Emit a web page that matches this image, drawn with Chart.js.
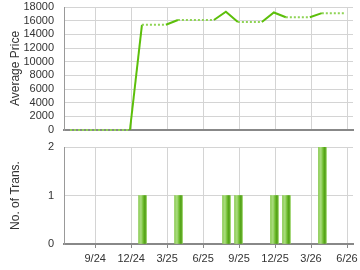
<!DOCTYPE html>
<html>
<head>
<meta charset="utf-8">
<script src="https://cdn.jsdelivr.net/npm/chart.js@4/dist/chart.umd.min.js"></script>
<style>
  body { margin: 0; background: #fff; width: 360px; height: 270px; overflow: hidden; }
  #wrapTop { position: absolute; left: 0; top: 0; width: 360px; height: 138px; }
  #wrapBot { position: absolute; left: 0; top: 135px; width: 360px; height: 135px; }
</style>
</head>
<body>
<div id="wrapTop"><canvas id="priceChart"></canvas></div>
<div id="wrapBot"><canvas id="transChart"></canvas></div>
<script>
// months counted from Jan 2024 = 0
const tickMonths = [8, 11, 14, 17, 20, 23, 26, 29];
const tickLabels = ['9/24', '12/24', '3/25', '6/25', '9/25', '12/25', '3/26', '6/26'];

const priceMonths = [5.9, 10.9, 11.9, 13.9, 14.9, 17.9, 18.9, 19.9, 21.9, 22.9, 23.9, 25.9, 26.9, 28.9];
const priceValues = [0, 0, 15400, 15400, 16100, 16100, 17300, 15800, 15800, 17200, 16500, 16500, 17100, 17100];

const transMonths = [11.95, 14.95, 18.95, 19.95, 22.95, 23.95, 26.95];
const transCounts = [1, 1, 1, 1, 1, 1, 2];

const FONT = "'Liberation Sans', Arial, sans-serif";
Chart.defaults.font.family = FONT;
Chart.defaults.color = '#333';
Chart.defaults.animation = false;

const xMin = 5.4, xMax = 29.5;

function setTicks(axis) {
    axis.ticks = tickMonths.map(v => ({ value: v }));
}
// fixed y axis width, no extra label padding so layout padding decides the plot box
function fixY(axis) {
    axis.width = 64;
    axis.paddingTop = 0;
    axis.paddingBottom = 0;
}
function fixX(h) {
    return axis => {
        axis.height = h;
        axis.paddingLeft = 0;
        axis.paddingRight = 0;
    };
}

// line chart (average price)
const priceData = priceMonths.map((m, i) => ({ x: m, y: priceValues[i] }));

const priceChart = new Chart(document.getElementById('priceChart'), {
    type: 'line',
    data: {
        datasets: [{
            data: priceData,
            borderColor: '#5cbf0a',
            borderWidth: 2,
            pointRadius: 0,
            tension: 0,
            fill: false,
            clip: 4,
            segment: {
                borderDash: ctx => (ctx.p1.parsed.x - ctx.p0.parsed.x > 1.05 ? [2, 2] : undefined),
                borderColor: ctx => (ctx.p1.parsed.x - ctx.p0.parsed.x > 1.05 ? '#8fd455' : undefined)
            }
        }]
    },
    options: {
        responsive: true,
        maintainAspectRatio: false,
        layout: { padding: { left: 0, right: 7, top: 7, bottom: 8 } },
        plugins: { legend: { display: false }, tooltip: { enabled: false } },
        scales: {
            x: {
                type: 'linear',
                min: xMin,
                max: xMax,
                afterBuildTicks: setTicks,
                afterFit: fixX(0),
                ticks: { display: false },
                grid: { color: '#d4d4d4', drawTicks: false },
                border: { color: '#888', width: 2 }
            },
            y: {
                min: 0,
                max: 18000,
                afterFit: fixY,
                ticks: {
                    stepSize: 2000, padding: 10, font: { size: 11 },
                    autoSkip: false,
                    callback: v => String(v)
                },
                grid: { color: '#d4d4d4', drawTicks: false },
                border: { color: '#999', width: 1 },
                title: { display: true, text: 'Average Price', font: { size: 12 }, padding: { top: 8, bottom: 0 } }
            }
        }
    }
});

// bar chart (number of transactions)
const transData = transMonths.map((m, i) => ({ x: m, y: transCounts[i] }));

function barFill(ctx) {
    const chart = ctx.chart;
    const xs = chart.scales.x;
    if (!xs || ctx.type !== 'data' || !ctx.raw) return '#7cc63a';
    const px = xs.getPixelForValue(ctx.raw.x);
    if (!isFinite(px)) return '#7cc63a';
    const g = chart.ctx.createLinearGradient(px - 4, 0, px + 4, 0);
    g.addColorStop(0, '#8ccc55');
    g.addColorStop(0.3, '#abdd80');
    g.addColorStop(0.6, '#6cbb2c');
    g.addColorStop(0.82, '#4d9c12');
    g.addColorStop(1, '#8ccc55');
    return g;
}

const transChart = new Chart(document.getElementById('transChart'), {
    type: 'bar',
    data: {
        datasets: [{
            data: transData,
            backgroundColor: barFill,
            borderWidth: 0,
            barThickness: 8
        }]
    },
    options: {
        responsive: true,
        maintainAspectRatio: false,
        layout: { padding: { left: 0, right: 7, top: 12, bottom: 0 } },
        plugins: { legend: { display: false }, tooltip: { enabled: false } },
        scales: {
            x: {
                type: 'linear',
                min: xMin,
                max: xMax,
                offset: false,
                afterBuildTicks: setTicks,
                afterFit: fixX(26),
                ticks: {
                    padding: 4,
                    font: { size: 11 },
                    maxRotation: 0,
                    autoSkip: false,
                    callback: v => tickLabels[tickMonths.indexOf(v)]
                },
                grid: { offset: false, color: '#d4d4d4', tickLength: 4, tickColor: '#888' },
                border: { color: '#888', width: 2 }
            },
            y: {
                min: 0,
                max: 2,
                afterFit: fixY,
                ticks: { stepSize: 1, padding: 10, font: { size: 11 }, autoSkip: false },
                grid: { color: '#d4d4d4', drawTicks: false },
                border: { color: '#999', width: 1 },
                title: { display: true, text: 'No. of Trans.', font: { size: 12 }, padding: { top: 8, bottom: 0 } }
            }
        }
    }
});
</script>
</body>
</html>
